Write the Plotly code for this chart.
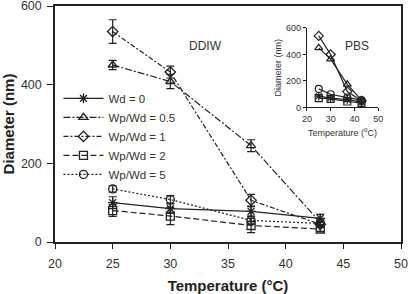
import plotly.graph_objects as go

temps = [25, 30, 37, 43]
names = ["Wd = 0", "Wp/Wd = 0.5", "Wp/Wd = 1", "Wp/Wd = 2", "Wp/Wd = 5"]
ddiw_wd0 = [100, 85, 78, 60]
ddiw_05 = [450, 408, 245, 50]
ddiw_1 = [535, 432, 106, 45]
ddiw_2 = [80, 66, 42, 33]
ddiw_5 = [135, 108, 55, 47]
err_wd0 = [15, 12, 12, 10]
err_05 = [12, 18, 15, 8]
err_1 = [30, 15, 15, 8]
err_2 = [15, 22, 18, 6]
err_5 = [8, 10, 10, 8]

pbs_wd0 = [85, 70, 60, 40]
pbs_05 = [450, 365, 175, 55]
pbs_1 = [540, 400, 120, 50]
pbs_2 = [70, 65, 45, 35]
pbs_5 = [140, 100, 75, 55]

x_ticks = [20, 25, 30, 35, 40, 45, 50]
y_ticks = [0, 200, 400, 600]
inset_x_ticks = [20, 30, 40, 50]
inset_y_ticks = [0, 200, 400, 600]

ink = "#222222"
symbols = ["asterisk-open", "triangle-up-open", "diamond-open", "square-open", "circle-open"]
dashes = ["solid", "7px,2px,2px,2px", "5px,2px,2px,2px", "6px,3px", "2px,2px"]
ddiw = [ddiw_wd0, ddiw_05, ddiw_1, ddiw_2, ddiw_5]
errs = [err_wd0, err_05, err_1, err_2, err_5]
pbs = [pbs_wd0, pbs_05, pbs_1, pbs_2, pbs_5]

fig = go.Figure()
for i in range(5):
    fig.add_trace(go.Scatter(
        x=temps, y=ddiw[i], name=names[i], mode="lines+markers",
        line=dict(color=ink, width=1.2, dash=dashes[i]),
        marker=dict(symbol=symbols[i], size=8, color=ink, line=dict(color=ink, width=1.3)),
        error_y=dict(type="data", array=errs[i], visible=True, color=ink, thickness=1.2, width=4),
        xaxis="x", yaxis="y"))
for i in range(5):
    fig.add_trace(go.Scatter(
        x=temps, y=pbs[i], mode="lines+markers", showlegend=False,
        line=dict(color=ink, width=1.2),
        marker=dict(symbol=symbols[i], size=7, color=ink, line=dict(color=ink, width=1.2)),
        xaxis="x2", yaxis="y2"))

fig.update_layout(
    width=409, height=294,
    margin=dict(l=55, r=8, t=6, b=52, autoexpand=False),
    paper_bgcolor="white", plot_bgcolor="white",
    font=dict(family="Liberation Sans, Arial, sans-serif", color="#333333", size=13),
    xaxis=dict(range=[20, 50], tickvals=x_ticks, ticks="outside", ticklen=5, tickcolor=ink,
               showline=True, linecolor=ink, linewidth=1.5, mirror=True, showgrid=False,
               zeroline=False, tickfont=dict(size=12.5), automargin=False,
               ticklabeloverflow="allow", ticklabelstandoff=4,
               title=dict(text="<b>Temperature (°C)</b>", font=dict(size=15, color="#222"), standoff=14)),
    yaxis=dict(range=[0, 600], tickvals=y_ticks, ticks="outside", ticklen=6, tickcolor=ink,
               showline=True, linecolor=ink, linewidth=1.5, mirror=True, showgrid=False,
               zeroline=False, tickfont=dict(size=12.5), automargin=False,
               ticklabeloverflow="allow", ticklabelstandoff=3,
               title=dict(text="<b>Diameter (nm)</b>", font=dict(size=15, color="#222"), standoff=4)),
    xaxis2=dict(domain=[0.728, 0.934], anchor="y2", range=[20, 50], tickvals=inset_x_ticks,
                ticks="outside", ticklen=3, tickcolor=ink, showline=True, linecolor=ink, linewidth=1,
                showgrid=False, zeroline=False, tickfont=dict(size=9), automargin=False,
                ticklabeloverflow="allow",
                title=dict(text="Temperature (<sup>o</sup>C)", font=dict(size=9), standoff=6)),
    yaxis2=dict(domain=[0.57, 0.907], anchor="x2", range=[0, 600], tickvals=inset_y_ticks,
                ticks="outside", ticklen=3, tickcolor=ink, showline=True, linecolor=ink, linewidth=1,
                showgrid=False, zeroline=False, tickfont=dict(size=9), automargin=False,
                ticklabeloverflow="allow",
                title=dict(text="Diameter (nm)", font=dict(size=9), standoff=2)),
    legend=dict(x=0.01, y=0.67, xanchor="left", yanchor="top", bgcolor="rgba(0,0,0,0)",
                font=dict(size=11.5, color="#333"), tracegroupgap=0, itemwidth=40),
    annotations=[
        dict(text="DDIW", x=0.435, y=0.87, xref="paper", yref="paper", showarrow=False,
             font=dict(size=12, color="#333")),
        dict(text="PBS", x=0.914, y=0.87, xref="paper", yref="paper", showarrow=False,
             font=dict(size=12, color="#333")),
    ],
)
fig.write_html("out.html", config={"displayModeBar": False},
               post_script="document.body.style.margin='0';")
